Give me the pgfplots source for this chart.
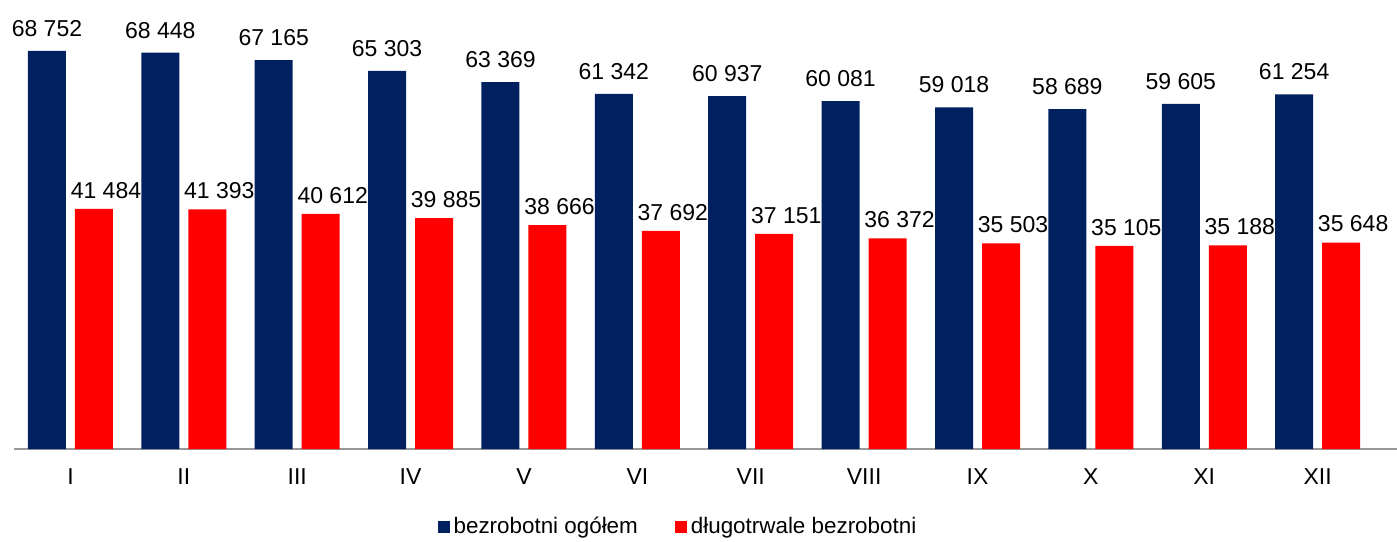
\documentclass[border=0pt]{standalone}
\usepackage{fontspec}
\setmainfont{Liberation Sans}
\usepackage{pgfplots}
\pgfplotsset{compat=1.18}
\definecolor{navy}{HTML}{002060}
\definecolor{redb}{HTML}{FF0000}
\begin{document}
\begin{tikzpicture}
\begin{axis}[
  scale only axis,
  width=691.5pt, height=224.5pt,
  xmin=-0.498, xmax=11.70,
  ymin=0, ymax=77550,
  ybar=4.5pt, bar width=19pt,
  axis y line=none,
  axis x line*=bottom,
  x axis line style={draw=gray!80, line width=1pt, -},
  xtick={0,...,11},
  xticklabels={I,II,III,IV,V,VI,VII,VIII,IX,X,XI,XII},
  major tick length=0pt,
  xticklabel style={anchor=center, yshift=-14pt, font=\fontsize{11.5}{13}\selectfont},
  clip=false,
  nodes near coords={\pgfmathprintnumber[assume math mode=true,fixed,precision=0,1000 sep={\ }]{\pgfplotspointmeta}},
  every node near coord/.append style={font=\fontsize{11.5}{13}\selectfont, text=black, inner sep=2pt, yshift=5pt},
  legend style={at={(0.4808,-0.1737)}, anchor=center, draw=none, legend columns=2,
    font=\fontsize{11.2}{13}\selectfont,
    /tikz/every even column/.append style={column sep=16.5pt}},
  legend image code/.code={\fill[#1] (0pt,-3pt) rectangle (6pt,3pt);},
]
\addplot[fill=navy, draw=none] coordinates {
(0,68752) (1,68448) (2,67165) (3,65303) (4,63369) (5,61342)
(6,60937) (7,60081) (8,59018) (9,58689) (10,59605) (11,61254)};
\addplot[fill=redb, draw=none, every node near coord/.append style={xshift=6pt, yshift=-2pt}] coordinates {
(0,41484) (1,41393) (2,40612) (3,39885) (4,38666) (5,37692)
(6,37151) (7,36372) (8,35503) (9,35105) (10,35188) (11,35648)};
\legend{bezrobotni ogółem, długotrwale bezrobotni}
\end{axis}
\pgfresetboundingbox
\path[use as bounding box] (-7pt,-46pt) rectangle (691.5pt,224.5pt);
\end{tikzpicture}
\end{document}
